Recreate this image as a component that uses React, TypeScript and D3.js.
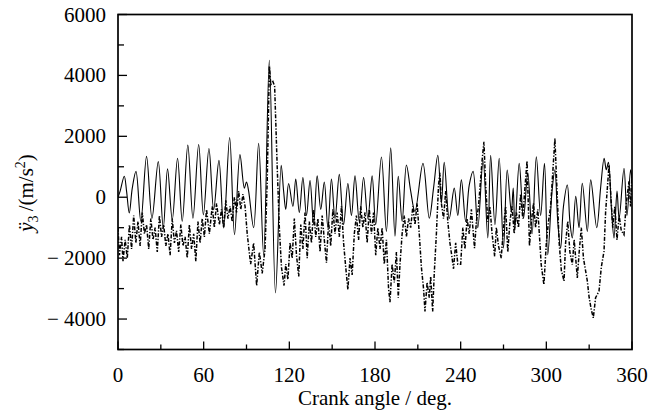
import React from "react";
import * as d3 from "d3";

const xTicks = [0, 30, 60, 90, 120, 150, 180, 210, 240, 270, 300, 330, 360];
const xLabels = [0, 60, 120, 180, 240, 300, 360];
const yTicks = [-5000, -4000, -3000, -2000, -1000, 0, 1000, 2000, 3000, 4000, 5000, 6000];
const yLabels = [-4000, -2000, 0, 2000, 4000, 6000];

// solid series: [crank angle (deg), acceleration (m/s^2)]
const solidPoints: [number, number][] = [
  [0, 0], [1.5, 200], [4.4, 690], [6, 200], [7.9, -520], [10, 300], [12.6, 850], [16, -790], [20, 1340], [23.8, -690],
  [28.2, 1170], [31.7, -1010], [34.7, 930], [38, -740], [41.7, 1280], [45, -790], [48.9, 1710], [52.5, -690], [56.5, 1730],
  [59.8, -580], [63.7, 1600], [67, -410], [70.7, 1210], [74, -1010], [78.2, 1960], [81.6, -1230], [85.4, 1400], [88.5, 300],
  [90, 500], [91.5, 200], [95, -1000], [98.5, 1770], [102, -1900], [106, 4500], [110.3, -3140], [114.3, 1050], [116, 200],
  [117.5, -400], [119.5, 450], [122.5, -300], [124.5, 600], [127, -500], [129.5, 650], [132, -600], [134.5, 550], [137, -900],
  [139.5, 700], [142, -400], [144.5, 500], [147, -1000], [149.5, 600], [152, -700], [155, 750], [158, -900], [161, 450],
  [163.5, -600], [166, 700], [169, -800], [172, 650], [175, -700], [178, 700], [180.5, -900], [184.5, 1320], [188, -1120],
  [191, 1620], [194, -1280], [196.3, 690], [199, -790], [202, 1060], [205, 200], [208, -470], [213.6, 1110], [218, -690],
  [221, 300], [224, 1380], [226.5, -200], [228.5, 1150], [232, -700], [235.5, 300], [238, -600], [240.5, 570], [243.5, -800],
  [246, 400], [248.7, 850], [252, -1000], [255.7, 1220], [259, -1340], [261, 1380], [264, -900], [267, 1280], [270, -1670],
  [272.6, 890], [275.5, -500], [276.8, 300], [278, -1000], [281, 1110], [284, -690], [287, 800], [290, -1200], [293, 1330],
  [296, -600], [298.7, 1110], [301, -1890], [304, 200], [306, 900], [308, -800], [310, -1670], [312, -300], [314.7, 400],
  [316.5, -800], [318.2, -1340], [320.6, 30], [322.9, -1000], [325.2, 460], [328.7, -1120], [331.1, 570], [335.3, -1000],
  [338, 300], [340.5, 1280], [342, 900], [343.5, 1150], [345.5, -300], [347.4, -1340], [349.5, 200], [351, -700],
  [354.4, 950], [356.5, -600], [359, 900], [360, 500],
];

// dash-dot series
const dashPoints: [number, number][] = [
  [0, -1000], [1, -1900], [2.5, -1300], [3.5, -2100], [5, -1400], [6.5, -2000], [8, -900], [9.5, -1700], [11, -600],
  [12.5, -1500], [14, -800], [15.5, -1600], [17, -500], [18.5, -1200], [20, -900], [21.5, -1700], [23, -700], [24.5, -1400],
  [26, -1000], [27.5, -1800], [29, -600], [30.5, -1300], [32, -900], [33.5, -1600], [35, -1200], [36.5, -1900], [38, -700],
  [39.5, -1500], [41, -1100], [42.5, -1800], [44, -900], [45.5, -1600], [47, -1300], [48.5, -2000], [50, -900], [51.5, -1700],
  [53, -1200], [54.5, -2100], [56, -800], [57.5, -1500], [59, -700], [60.5, -1300], [62, -400], [64, -1200], [66, -300],
  [67.5, -1000], [69, -200], [71, -900], [72.5, -400], [74, -1000], [75.5, -100], [77, -700], [78.5, -300], [80, -800],
  [81.5, 0], [83, -500], [84.5, 200], [86, -400], [87.5, 100], [89, -300], [90.5, -1200], [92.9, -2200], [95, -1500],
  [97.1, -2900], [99, -1800], [101, -2500], [103, -1700], [104.5, 500], [106, 4300], [107, 3700], [108.5, 3800], [109.7, 3650],
  [111.5, 1000], [113, -1000], [114.5, -2300], [116.3, -2900], [117.5, -2200], [119, -2700], [120.5, -1500], [122, -2000],
  [123.5, -700], [125, -1900], [126.6, -2600], [128, -900], [129.5, -1700], [131, -500], [132.5, -2000], [134, -800],
  [135.5, -1500], [137, -400], [138.5, -1300], [140, -700], [141.5, -1800], [143, -600], [144.5, -1400], [146, -2150],
  [147.5, -800], [149, -1600], [150.5, -400], [152, -1200], [153.5, -500], [155, -1300], [156.5, -300], [158, -1500],
  [159.5, -2300], [161, -3030], [162.5, -2000], [164, -2550], [165.5, -1200], [167, -600], [168.5, -1400], [170, -300],
  [171.5, -1000], [173, -500], [174.5, -1500], [176, -400], [177.5, -1200], [179, -500], [180.5, -1900], [182, -1000],
  [183.5, -1700], [185, -1000], [186.5, -2200], [188, -1400], [189.5, -3000], [190.5, -3450], [192, -2200], [193.5, -2800],
  [195, -1800], [196.3, -3300], [197.5, -2200], [199, -1200], [200.5, -600], [202, -1300], [203.5, -700], [205, -1000],
  [206.5, -300], [208, -900], [209.5, -200], [211, -1200], [212.5, -2300], [214, -3000], [215, -3750], [216.5, -2800],
  [218, -3300], [219, -2600], [220.4, -3750], [221.5, -2500], [223, -1200], [224.5, 400], [225.5, 800], [226.5, -200],
  [228, -700], [229.5, 200], [231, -800], [232.5, -1500], [234, -2000], [235, -2350], [236.5, -1500], [238, -2200],
  [240, -2200], [241.5, -1000], [243, -1700], [244.5, -700], [246, -1200], [247.5, -400], [249.7, -1670], [251, -800],
  [252.5, -300], [254, 600], [255, 1200], [256.3, 1820], [257.5, 400], [259, -800], [260.5, -300], [262, -1200],
  [263.8, -1940], [265, -1000], [266.5, -1600], [268.4, -2000], [270, -1000], [271.5, -300], [273, -1800], [274.5, -800],
  [276, -300], [277.5, -1200], [279, -500], [280.5, -1000], [282, 100], [283.5, -700], [285, 300], [286.5, 1200],
  [288.2, -1600], [289.5, -800], [291, -200], [292.5, -1000], [294, -400], [295.5, -1500], [296.4, -2210], [298.3, -2870],
  [300, -1500], [301.5, -800], [303, -300], [304.5, 800], [306, 1930], [307.5, 200], [309, -1500], [310.5, -2400],
  [312.4, -2750], [313.5, -1500], [315, -800], [316.5, -1800], [318.2, -2210], [319.5, -1400], [321.7, -2650], [323, -1800],
  [324.5, -1000], [326, -2000], [328.7, -2750], [330, -3300], [331.5, -3700], [332.9, -3960], [334.5, -3300], [336.9, -3080],
  [338.5, -2300], [340.4, -1770], [341.5, -500], [343.9, 1060], [345, 200], [346.5, -1000], [348, -300], [349.5, -1400],
  [351, -600], [352.5, -1100], [354.4, -1230], [356, -200], [357.9, 520], [359, -300], [360, 800],
];

const W = 648;
const H = 414;
const M = { left: 118, right: 632, top: 14.5, bottom: 349.5 };
const FONT = "Liberation Serif, Times New Roman, DejaVu Serif, serif";

export default function App() {
  const x = d3.scaleLinear().domain([0, 360]).range([M.left, M.right]);
  const y = d3.scaleLinear().domain([-5000, 6000]).range([M.bottom, M.top]);

  const solidLine = d3
    .line<[number, number]>()
    .x((d) => x(d[0]))
    .y((d) => y(d[1]))
    .curve(d3.curveCatmullRom.alpha(0.5));
  const dashLine = d3
    .line<[number, number]>()
    .x((d) => x(d[0]))
    .y((d) => y(d[1]));

  const fmtY = (v: number) => (v < 0 ? "\u2212 " + Math.abs(v) : String(v));
  const ts = { fontFamily: FONT, fontSize: "21px" } as React.CSSProperties;

  return (
    <svg
      width={W}
      height={H}
      style={{ position: "absolute", left: 0, top: 0, background: "#fff", fontFamily: FONT }}
    >
      <defs>
        <clipPath id="plot">
          <rect x={M.left} y={M.top} width={M.right - M.left} height={M.bottom - M.top} />
        </clipPath>
      </defs>
      <g clipPath="url(#plot)">
        <path d={dashLine(dashPoints) || ""} fill="none" stroke="#000" strokeWidth={1.5} strokeDasharray="4 1.6 1.3 1.6" />
        <path d={solidLine(solidPoints) || ""} fill="none" stroke="#000" strokeWidth={1.1} />
      </g>
      <rect
        x={M.left}
        y={M.top}
        width={M.right - M.left}
        height={M.bottom - M.top}
        fill="none"
        stroke="#000"
        strokeWidth={1.7}
      />
      {xTicks.map((t) => {
        const major = xLabels.includes(t);
        return (
          <line key={"xt" + t} x1={x(t)} x2={x(t)} y1={M.bottom} y2={M.bottom - (major ? 8 : 5)} stroke="#000" strokeWidth={1.3} />
        );
      })}
      {xLabels.map((t) => (
        <text key={"xl" + t} x={x(t)} y={382} textAnchor="middle" style={ts}>
          {t}
        </text>
      ))}
      {yTicks.map((t) => {
        const major = yLabels.includes(t);
        return (
          <line key={"yt" + t} x1={M.left} x2={M.left + (major ? 9 : 6)} y1={y(t)} y2={y(t)} stroke="#000" strokeWidth={1.3} />
        );
      })}
      {yLabels.map((t) => (
        <text key={"yl" + t} x={106} y={y(t) + 7} textAnchor="end" style={ts}>
          {fmtY(t)}
        </text>
      ))}
      <text x={375} y={405} textAnchor="middle" style={ts}>
        Crank angle / deg.
      </text>
      <text transform="translate(33,193) rotate(-90)" textAnchor="middle" style={ts}>
        <tspan fontStyle="italic">{"\u00FF"}</tspan>
        <tspan style={{ fontSize: "14px" }} dy={5}>3</tspan>
        <tspan dy={-5}>{"\u2009/(m/s"}</tspan>
        <tspan style={{ fontSize: "14px" }} dy={-8}>2</tspan>
        <tspan dy={8}>)</tspan>
      </text>
    </svg>
  );
}
